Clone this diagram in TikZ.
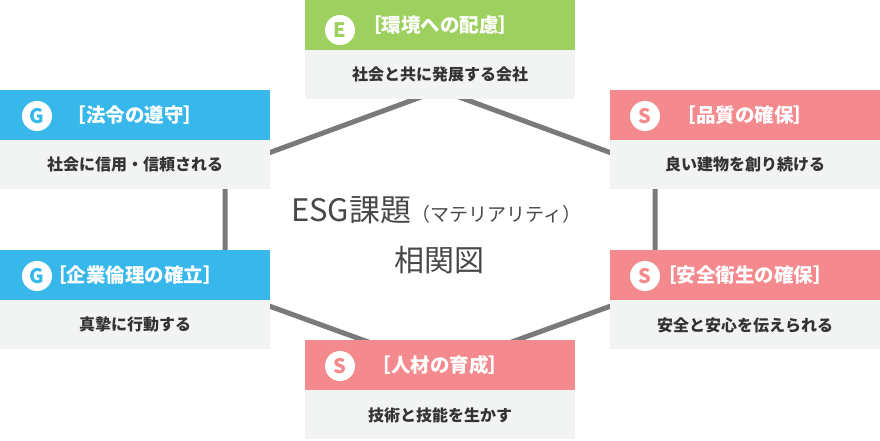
\documentclass[tikz,border=0pt]{standalone}
\usepackage{fontspec}
\newfontfamily\jpfont{Noto Sans CJK JP}
\usetikzlibrary{positioning}

\definecolor{envgreen}{HTML}{9DD05E}
\definecolor{govblue}{HTML}{38B8EA}
\definecolor{socpink}{HTML}{F48A8D}
\definecolor{bodygray}{HTML}{F2F3F3}
\definecolor{textdark}{HTML}{333333}
\definecolor{linegray}{HTML}{7A7A7C}
\definecolor{titlegray}{HTML}{484848}

\tikzset{
	headbox/.style={fill=#1, minimum width=270pt, minimum height=50pt, inner sep=0pt,
		text=white, font=\jpfont\bfseries\fontsize{19.5}{22}\selectfont},
	bodybox/.style={fill=bodygray, minimum width=270pt, minimum height=49pt, inner sep=0pt,
		text=textdark, font=\jpfont\bfseries\fontsize{16}{19}\selectfont},
	badge/.style={circle, fill=white, minimum size=30pt, inner sep=0pt,
		text=#1, font=\jpfont\bfseries\fontsize{20}{22}\selectfont},
}

\begin{document}
\begin{tikzpicture}[x=1pt,y=-1pt]
		
		\useasboundingbox (0,0) rectangle (880,440);
		
		% Hexagon behind the boxes
		\coordinate (hexTop) at (440,90);
		\coordinate (hexTR) at (655,169);
		\coordinate (hexBR) at (655,290);
		\coordinate (hexBot) at (440,368);
		\coordinate (hexBL) at (225,290);
		\coordinate (hexTL) at (225,169);
		\draw[linegray, line width=5pt] (hexTop) -- (hexTR) -- (hexBR) -- (hexBot)
		-- (hexBL) -- (hexTL) -- cycle;
		
		% Environment (top)
		\node[headbox=envgreen] (envHead) at (440,25) {［環境への配慮］};
		\node[bodybox, below=0pt of envHead] (envBody) {社会と共に発展する会社};
		\node[badge=envgreen] (envBadge) at (340,30) {E};
		
		% Governance (left)
		\node[headbox=govblue] (lawHead) at (135,115) {［法令の遵守］};
		\node[bodybox, below=0pt of lawHead] (lawBody) {社会に信用・信頼される};
		\node[badge=govblue] (lawBadge) at (37,116) {G};
		
		\node[headbox=govblue] (ethHead) at (135,275) {［企業倫理の確立］};
		\node[bodybox, below=0pt of ethHead] (ethBody) {真摯に行動する};
		\node[badge=govblue] (ethBadge) at (37,276) {G};
		
		% Social (right and bottom)
		\node[headbox=socpink] (qualHead) at (745,115) {［品質の確保］};
		\node[bodybox, below=0pt of qualHead] (qualBody) {良い建物を創り続ける};
		\node[badge=socpink] (qualBadge) at (645,116) {S};
		
		\node[headbox=socpink] (safeHead) at (745,275) {［安全衛生の確保］};
		\node[bodybox, below=0pt of safeHead] (safeBody) {安全と安心を伝えられる};
		\node[badge=socpink] (safeBadge) at (645,276) {S};
		
		\node[headbox=socpink] (hrHead) at (440,365) {［人材の育成］};
		\node[bodybox, below=0pt of hrHead] (hrBody) {技術と技能を生かす};
		\node[badge=socpink] (hrBadge) at (340,366) {S};
		
		% Title in the middle
		\node[text=titlegray, font=\jpfont, inner sep=0pt] (title) at (436,210)
		{{\fontsize{31}{36}\selectfont ESG課題}{\fontsize{19}{22}\selectfont （マテリアリティ）}};
		\node[text=titlegray, font=\jpfont\fontsize{30}{36}\selectfont, inner sep=0pt]
		(titleSub) at (439,260) {相関図};
		
	\end{tikzpicture}
\end{document}
